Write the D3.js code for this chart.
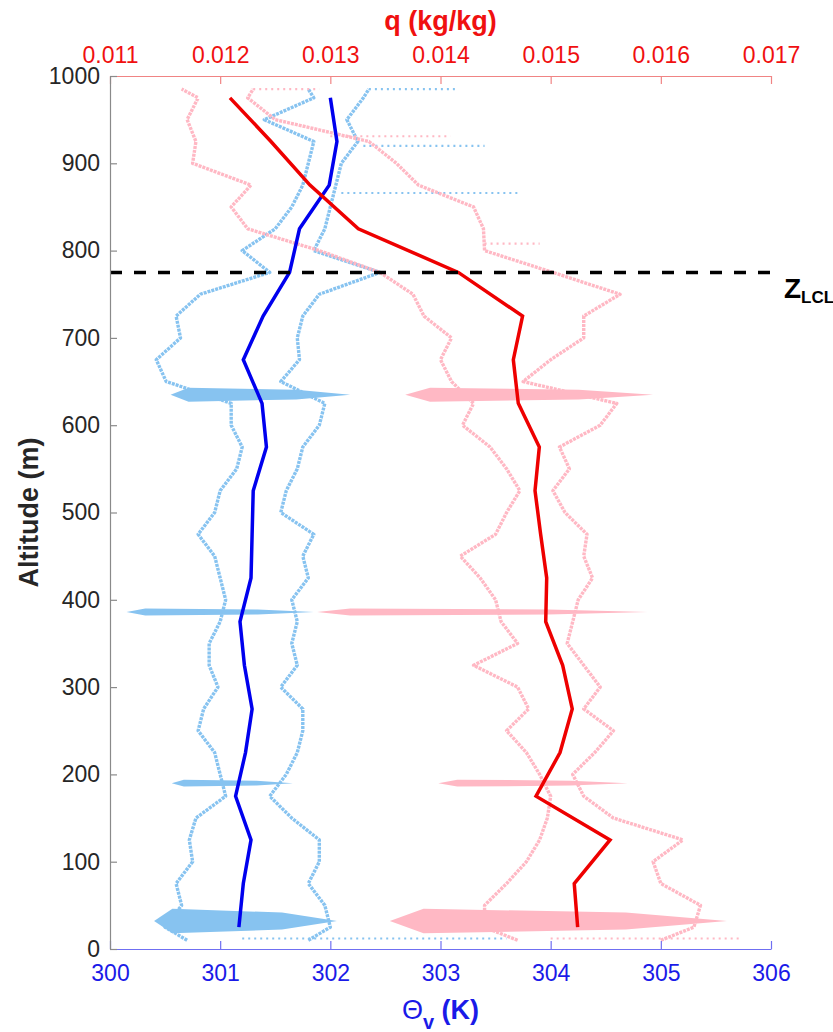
<!DOCTYPE html>
<html>
<head>
<meta charset="utf-8">
<script src="https://cdn.jsdelivr.net/npm/d3@7"></script>
<style>
  body { margin: 0; background: #fff; }
  text { font-family: "Liberation Sans", Arial, Helvetica, sans-serif; }
</style>
</head>
<body>
<div id="chart"></div>
<script>
'use strict';

// tick values
var thetaTicks = [300, 301, 302, 303, 304, 305, 306];
var qTicks = [0.011, 0.012, 0.013, 0.014, 0.015, 0.016, 0.017];
var altTicks = [0, 100, 200, 300, 400, 500, 600, 700, 800, 900, 1000];

// raw profile traces, read at these altitudes (m)
var traceAlt = [10, 25, 50, 75, 100, 125, 150, 175, 200, 225, 250, 275, 300, 325, 350, 375, 400,
  425, 450, 475, 500, 525, 550, 575, 600, 625, 650, 675, 700, 725, 750, 775, 800, 825, 850,
  875, 900, 925, 950, 975, 985];

var thetaLeft = [300.70, 300.50, 300.65, 300.60, 300.75, 300.72, 300.78, 301.05, 301.00, 300.95,
  300.80, 300.85, 300.98, 300.90, 300.90, 301.00, 301.05, 301.00, 300.95, 300.80, 300.95, 301.00,
  301.15, 301.20, 301.10, 301.10, 300.51, 300.42, 300.64, 300.60, 300.82, 301.45, 301.20, 301.50,
  301.65, 301.75, 301.80, 301.85, 301.40, 301.85, 301.80];
var thetaRight = [301.80, 302.00, 301.95, 301.80, 301.90, 301.90, 301.65, 301.45, 301.60, 301.70,
  301.75, 301.75, 301.55, 301.70, 301.65, 301.70, 301.65, 301.80, 301.75, 301.85, 301.55, 301.60,
  301.70, 301.75, 301.90, 301.95, 301.55, 301.72, 301.70, 301.75, 301.90, 302.45, 301.85, 301.95,
  302.00, 302.05, 302.10, 302.25, 302.15, 302.30, 302.35];

var qLeft = [0.01470, 0.01440, 0.01440, 0.01460, 0.01478, 0.01490, 0.01497, 0.01500, 0.01490,
  0.01478, 0.01460, 0.01480, 0.01470, 0.01430, 0.01470, 0.01455, 0.01450, 0.01436, 0.01418,
  0.01450, 0.01460, 0.01472, 0.01460, 0.01445, 0.01420, 0.01430, 0.01410, 0.01400, 0.01410,
  0.01385, 0.01375, 0.01345, 0.01290, 0.01225, 0.01210, 0.01228, 0.01175, 0.01178, 0.01170,
  0.01180, 0.01165];
var qRight = [0.01600, 0.01630, 0.01636, 0.01600, 0.01593, 0.01620, 0.01557, 0.01530, 0.01520,
  0.01540, 0.01557, 0.01530, 0.01545, 0.01530, 0.01515, 0.01520, 0.01525, 0.01538, 0.01530,
  0.01533, 0.01513, 0.01502, 0.01517, 0.01508, 0.01545, 0.01560, 0.01475, 0.01500, 0.01530,
  0.01530, 0.01563, 0.01502, 0.01440, 0.01439, 0.01430, 0.01380, 0.01360, 0.01335, 0.01250,
  0.01225, 0.01230];

// hovering bursts: centre altitude, half thickness (m), value range
var burstAlt = [635, 386, 190, 32];
var burstHalf = [8, 4, 4, 14];
var thetaBurstLo = [300.55, 300.15, 300.56, 300.40];
var thetaBurstHi = [302.18, 301.85, 301.66, 302.06];
var qBurstLo = [0.01368, 0.01288, 0.01398, 0.01354];
var qBurstHi = [0.01593, 0.01588, 0.01570, 0.01660];

// sparse horizontal dot rows
var thetaRowAlt = [985, 920, 866, 12];
var thetaRowFrom = [302.35, 302.30, 302.10, 301.20];
var thetaRowTo = [303.15, 303.40, 303.70, 303.60];
var qRowAlt = [985, 931, 808, 12];
var qRowFrom = [0.01230, 0.01300, 0.01440, 0.01500];
var qRowTo = [0.01290, 0.01409, 0.01490, 0.01672];

// 50 m bin means
var meanAlt = [25, 75, 125, 175, 225, 275, 325, 375, 425, 475, 525, 575, 625, 675, 725, 775,
  825, 875, 925, 975];
var thetaMean = [301.17, 301.21, 301.28, 301.14, 301.23, 301.29, 301.22, 301.18, 301.28, 301.29,
  301.30, 301.42, 301.38, 301.21, 301.39, 301.63, 301.72, 301.99, 302.06, 302.00];
var qMean = [0.015245, 0.015214, 0.015539, 0.014867, 0.015085, 0.015196, 0.015109, 0.014955,
  0.014964, 0.014909, 0.014858, 0.014897, 0.014706, 0.014661, 0.014745, 0.014162, 0.013254,
  0.012815, 0.012461, 0.012089];

var zLCL = 775;

var blueCloud = "#87c3f0";
var pinkCloud = "#ffb8c4";

var svg = d3.select("#chart")
  .append("svg")
  .attr("width", 833)
  .attr("height", 1032);

var margin = {top: 76, right: 62, bottom: 83, left: 110};
var width = +svg.attr("width") - margin.left - margin.right;
var height = +svg.attr("height") - margin.top - margin.bottom;
var g = svg.append("g").attr("transform", "translate(" + margin.left + "," + margin.top + ")");

var x = d3.scaleLinear().domain([300, 306]).range([0, width]);
var xq = d3.scaleLinear().domain([0.011, 0.017]).range([0, width]);
var y = d3.scaleLinear().domain([0, 1000]).range([height, 0]);

svg.append("clipPath").attr("id", "clip")
  .append("rect").attr("width", width).attr("height", height);

var plot = g.append("g").attr("clip-path", "url(#clip)");

function lineFor(scale) {
  return d3.line()
    .x(function(d) { return scale(d.v); })
    .y(function(d) { return y(d.alt); });
}

function zipTrace(alts, vals) {
  return alts.map(function(a, i) { return {alt: a, v: vals[i]}; });
}

//lens shaped smear for a hovering burst
function burstShape(lo, hi, alt, half) {
  var span = hi - lo;
  return [
    {v: lo, alt: alt},
    {v: lo + span * 0.1, alt: alt + half},
    {v: hi - span * 0.3, alt: alt + half * 0.7},
    {v: hi, alt: alt},
    {v: hi - span * 0.3, alt: alt - half * 0.7},
    {v: lo + span * 0.1, alt: alt - half}
  ];
}

function drawCloud(scale, left, right, lo, hi, rowAlt, rowFrom, rowTo, color) {
  var line = lineFor(scale);
  [left, right].forEach(function(vals) {
    plot.append("path")
      .datum(zipTrace(traceAlt, vals))
      .attr("fill", "none")
      .attr("stroke", color)
      .attr("stroke-width", 3.4)
      .attr("stroke-dasharray", "3 1")
      .attr("stroke-linejoin", "round")
      .attr("d", line);
  });

  var closed = lineFor(scale).curve(d3.curveLinearClosed);
  burstAlt.forEach(function(a, i) {
    plot.append("path")
      .datum(burstShape(lo[i], hi[i], a, burstHalf[i]))
      .attr("fill", color)
      .attr("d", closed);
  });

  rowAlt.forEach(function(a, i) {
    plot.append("line")
      .attr("x1", scale(rowFrom[i]))
      .attr("x2", scale(rowTo[i]))
      .attr("y1", y(a))
      .attr("y2", y(a))
      .attr("stroke", color)
      .attr("stroke-width", 2.2)
      .attr("stroke-dasharray", "2 4");
  });
}

drawCloud(x, thetaLeft, thetaRight, thetaBurstLo, thetaBurstHi,
  thetaRowAlt, thetaRowFrom, thetaRowTo, blueCloud);
drawCloud(xq, qLeft, qRight, qBurstLo, qBurstHi,
  qRowAlt, qRowFrom, qRowTo, pinkCloud);

// mean profiles
plot.append("path")
  .datum(zipTrace(meanAlt, thetaMean))
  .attr("fill", "none")
  .attr("stroke", "#0000ee")
  .attr("stroke-width", 3.5)
  .attr("d", lineFor(x));

plot.append("path")
  .datum(zipTrace(meanAlt, qMean))
  .attr("fill", "none")
  .attr("stroke", "#ee0000")
  .attr("stroke-width", 3.5)
  .attr("d", lineFor(xq));

// LCL height
g.append("line")
  .attr("x1", 0)
  .attr("x2", width)
  .attr("y1", y(zLCL))
  .attr("y2", y(zLCL))
  .attr("stroke", "#000")
  .attr("stroke-width", 3.5)
  .attr("stroke-dasharray", "12 12");

svg.append("text")
  .attr("x", margin.left + width + 13)
  .attr("y", margin.top + y(zLCL) + 26)
  .attr("font-family", "Lato, 'Open Sans', sans-serif")
  .attr("font-weight", "bold")
  .attr("font-size", 28)
  .attr("fill", "#000")
  .text("Z")
  .append("tspan")
  .attr("font-size", 17)
  .attr("dy", 5)
  .text("LCL");

// axes
function styleAxis(sel, lineColor, textColor) {
  sel.attr("font-size", 23)
    .attr("font-family", "'Liberation Sans', Arial, Helvetica, sans-serif")
    .attr("color", lineColor);
  sel.selectAll("text").attr("fill", textColor);
  sel.selectAll("line").attr("stroke-width", 1.2);
  sel.select(".domain").attr("stroke-width", 1.2);
}

g.append("g")
  .attr("transform", "translate(0," + height + ")")
  .call(d3.axisBottom(x).tickValues(thetaTicks).tickFormat(d3.format("d"))
    .tickSizeInner(-8).tickSizeOuter(0).tickPadding(16))
  .call(styleAxis, "#6f6ff2", "#1a1ae8");

g.append("g")
  .call(d3.axisTop(xq).tickValues(qTicks).tickFormat(d3.format(".3f"))
    .tickSizeInner(-8).tickSizeOuter(0).tickPadding(13))
  .call(styleAxis, "#f08484", "#f01010");

g.append("g")
  .call(d3.axisLeft(y).tickValues(altTicks).tickFormat(d3.format("d"))
    .tickSizeInner(-7).tickSizeOuter(0).tickPadding(10))
  .call(styleAxis, "#8a8a8a", "#262626");

// axis titles
svg.append("text")
  .attr("x", margin.left + width / 2)
  .attr("y", 30)
  .attr("text-anchor", "middle")
  .attr("font-weight", "bold")
  .attr("font-size", 27)
  .attr("fill", "#f01010")
  .text("q (kg/kg)");

var tx = svg.append("text")
  .attr("x", margin.left + width / 2)
  .attr("y", 1019)
  .attr("text-anchor", "middle")
  .attr("font-size", 27)
  .attr("fill", "#1a1ae8");
tx.append("tspan").text("Θ");
tx.append("tspan").attr("font-weight", "bold").attr("font-size", 20).attr("dy", 10).text("v");
tx.append("tspan").attr("font-weight", "bold").attr("dy", -10).text(" (K)");

svg.append("text")
  .attr("transform", "translate(38," + (margin.top + height / 2) + ") rotate(-90)")
  .attr("text-anchor", "middle")
  .attr("font-weight", "bold")
  .attr("font-size", 27)
  .attr("fill", "#262626")
  .text("Altitude (m)");
</script>
</body>
</html>
